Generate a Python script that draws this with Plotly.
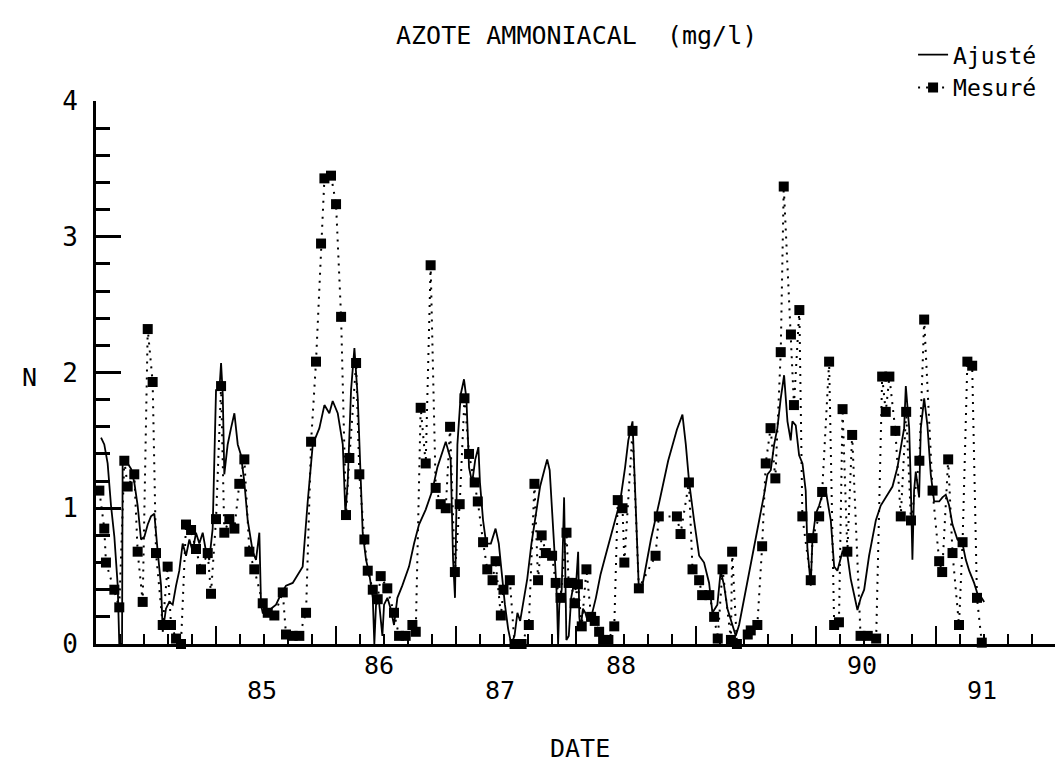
import plotly.graph_objects as go

# ---------------- data ----------------
fit_year = [84.042, 84.069, 84.097, 84.125, 84.153, 84.181, 84.194, 84.217, 84.222, 84.25, 84.292, 84.319,
            84.347, 84.375, 84.403, 84.431, 84.458, 84.486, 84.514, 84.542, 84.556, 84.583, 84.611, 84.639,
            84.667, 84.694, 84.722, 84.75, 84.778, 84.806, 84.833, 84.861, 84.889, 84.917, 84.944, 84.972,
            85.0, 85.028, 85.042, 85.056, 85.069, 85.097, 85.125, 85.153, 85.181, 85.208, 85.236, 85.264,
            85.306, 85.333, 85.361, 85.375, 85.389, 85.417, 85.458, 85.5, 85.542, 85.583, 85.639, 85.681,
            85.722, 85.764, 85.806, 85.861, 85.903, 85.944, 85.972, 86.014, 86.056, 86.078, 86.097, 86.125,
            86.153, 86.181, 86.194, 86.222, 86.25, 86.278, 86.306, 86.319, 86.333, 86.358, 86.386, 86.4,
            86.428, 86.455, 86.483, 86.511, 86.552, 86.608, 86.65, 86.691, 86.747, 86.802, 86.844, 86.886,
            86.914, 86.955, 86.975, 86.991, 87.011, 87.039, 87.066, 87.086, 87.108, 87.134, 87.160, 87.186,
            87.199, 87.225, 87.251, 87.290, 87.329, 87.356, 87.382, 87.407, 87.434, 87.46, 87.487, 87.511,
            87.534, 87.557, 87.593, 87.628, 87.664, 87.700, 87.735, 87.759, 87.78, 87.80, 87.82, 87.84,
            87.85, 87.86, 87.88, 87.90, 87.91, 87.919, 87.939, 87.959, 87.978, 87.997, 88.017, 88.027,
            88.037, 88.057, 88.077, 88.096, 88.115, 88.135, 88.165, 88.203, 88.245, 88.286, 88.326, 88.367,
            88.408, 88.435, 88.47, 88.523, 88.55, 88.623, 88.694, 88.767, 88.84, 88.886, 88.914, 88.942,
            88.983, 89.025, 89.066, 89.108, 89.136, 89.177, 89.205, 89.233, 89.261, 89.302, 89.33, 89.358,
            89.4, 89.441, 89.483, 89.525, 89.566, 89.594, 89.622, 89.65, 89.677, 89.705, 89.733, 89.761,
            89.788, 89.802, 89.83, 89.858, 89.886, 89.913, 89.927, 89.955, 89.969, 89.997, 90.025, 90.052,
            90.08, 90.122, 90.15, 90.177, 90.219, 90.261, 90.288, 90.316, 90.344, 90.372, 90.4, 90.441,
            90.497, 90.538, 90.58, 90.636, 90.677, 90.705, 90.733, 90.747, 90.775, 90.788, 90.802, 90.816,
            90.83, 90.858, 90.872, 90.9, 90.927, 90.955, 90.983, 91.025, 91.052, 91.08, 91.108, 91.136,
            91.177, 91.219, 91.247, 91.275, 91.316, 91.344, 91.372, 91.4]
fit_value = [1.52, 1.47, 1.33, 1.02, 0.79, 0.43, 0.0, 0.0, 1.36, 1.35, 1.29, 1.19,
             1.02, 0.77, 0.79, 0.88, 0.94, 0.96, 0.68, 0.43, 0.09, 0.26, 0.31, 0.29,
             0.43, 0.54, 0.74, 0.65, 0.77, 0.68, 0.82, 0.74, 0.82, 0.68, 0.62, 0.85,
             1.87, 1.87, 2.07, 1.84, 1.25, 1.47, 1.59, 1.70, 1.47, 1.39, 1.19, 0.91,
             0.68, 0.62, 0.82, 0.29, 0.23, 0.23, 0.26, 0.29, 0.37, 0.43, 0.45, 0.51,
             0.57, 1.05, 1.47, 1.59, 1.76, 1.70, 1.79, 1.70, 1.47, 0.96, 1.19, 1.87,
             2.18, 1.81, 1.47, 0.82, 0.62, 0.51, 0.34, 0.0, 0.29, 0.31, 0.06, 0.29,
             0.34, 0.26, 0.14, 0.34, 0.43, 0.57, 0.74, 0.88, 0.99, 1.13, 1.30, 1.42,
             1.49, 1.36, 0.62, 0.34, 1.47, 1.84, 1.95, 1.81, 1.30, 1.19, 1.36, 1.45,
             1.19, 0.91, 0.74, 0.74, 0.85, 0.74, 0.48, 0.29, 0.11, 0.0, 0.06, 0.23,
             0.17, 0.29, 0.48, 0.74, 0.96, 1.16, 1.28, 1.36, 1.28, 1.02, 0.68, 0.34,
             0.0, 0.29, 0.40, 1.08, 0.62, 0.03, 0.06, 0.34, 0.43, 0.40, 0.68, 0.20,
             0.11, 0.26, 0.23, 0.17, 0.20, 0.23, 0.34, 0.51, 0.65, 0.79, 0.91, 1.05,
             1.30, 1.50, 1.64, 0.40, 0.42, 0.77, 1.05, 1.35, 1.58, 1.69, 1.47, 1.19,
             0.91, 0.65, 0.60, 0.45, 0.23, 0.29, 0.54, 0.43, 0.26, 0.14, 0.06, 0.14,
             0.34, 0.54, 0.74, 0.91, 1.10, 1.25, 1.28, 1.47, 1.59, 1.81, 1.98, 1.64,
             1.50, 1.64, 1.61, 1.39, 1.33, 1.13, 0.71, 0.43, 0.77, 0.96, 1.02, 1.10,
             1.13, 0.91, 0.57, 0.54, 0.68, 0.65, 0.48, 0.37, 0.25, 0.34, 0.40, 0.65,
             0.91, 1.02, 1.08, 1.16, 1.30, 1.45, 1.59, 1.90, 1.59, 1.19, 0.62, 1.13,
             1.27, 1.08, 1.59, 1.81, 1.61, 1.25, 1.05, 1.05, 1.08, 1.10, 1.02, 0.88,
             0.77, 0.74, 0.62, 0.54, 0.45, 0.37, 0.35, 0.31]

meas_year = [84.028, 84.069, 84.083, 84.153, 84.194, 84.236, 84.264, 84.319, 84.347, 84.389, 84.431, 84.472,
             84.5, 84.556, 84.597, 84.625, 84.667, 84.708, 84.75, 84.792, 84.833, 84.875, 84.931, 84.958,
             85.0, 85.042, 85.069, 85.111, 85.153, 85.194, 85.236, 85.278, 85.319, 85.389, 85.431, 85.486,
             85.556, 85.583, 85.639, 85.694, 85.75, 85.792, 85.833, 85.875, 85.903, 85.958, 86.0, 86.042,
             86.083, 86.111, 86.167, 86.194, 86.236, 86.264, 86.306, 86.347, 86.372, 86.427, 86.483, 86.525,
             86.58, 86.636, 86.664, 86.705, 86.747, 86.788, 86.83, 86.872, 86.914, 86.95, 86.99, 87.03,
             87.07, 87.108, 87.155, 87.181, 87.225, 87.26, 87.304, 87.329, 87.373, 87.395, 87.448, 87.487,
             87.546, 87.606, 87.653, 87.683, 87.713, 87.748, 87.80, 87.83, 87.87, 87.92, 87.938, 87.959,
             87.987, 88.015, 88.047, 88.086, 88.125, 88.155, 88.192, 88.225, 88.269, 88.318, 88.347, 88.387,
             88.402, 88.47, 88.523, 88.662, 88.689, 88.84, 88.87, 88.94, 88.97, 89.025, 89.05, 89.11,
             89.15, 89.18, 89.22, 89.29, 89.3, 89.34, 89.43, 89.455, 89.51, 89.55, 89.58, 89.62,
             89.66, 89.705, 89.73, 89.79, 89.815, 89.86, 89.885, 89.955, 89.97, 90.025, 90.05, 90.108,
             90.15, 90.19, 90.22, 90.26, 90.3, 90.37, 90.43, 90.5, 90.55, 90.58, 90.61, 90.66,
             90.705, 90.75, 90.79, 90.86, 90.9, 90.97, 91.025, 91.05, 91.1, 91.136, 91.19, 91.22,
             91.26, 91.3, 91.34, 91.38]
meas_value = [1.13, 0.85, 0.60, 0.40, 0.27, 1.35, 1.16, 1.25, 0.68, 0.31, 2.32, 1.93,
              0.67, 0.14, 0.57, 0.14, 0.04, 0.0, 0.88, 0.84, 0.70, 0.55, 0.67, 0.37,
              0.92, 1.90, 0.82, 0.92, 0.85, 1.18, 1.36, 0.68, 0.55, 0.30, 0.23, 0.21,
              0.38, 0.07, 0.06, 0.06, 0.23, 1.49, 2.08, 2.95, 3.43, 3.45, 3.24, 2.41,
              0.95, 1.37, 2.07, 1.25, 0.77, 0.54, 0.40, 0.33, 0.50, 0.41, 0.23, 0.06,
              0.06, 0.14, 0.09, 1.74, 1.33, 2.79, 1.15, 1.03, 1.00, 1.60, 0.53, 1.03,
              1.81, 1.40, 1.19, 1.05, 0.75, 0.55, 0.47, 0.61, 0.21, 0.40, 0.47, 0.0,
              0.0, 0.14, 1.18, 0.47, 0.80, 0.67, 0.65, 0.45, 0.34, 0.82, 0.45, 0.45,
              0.30, 0.44, 0.13, 0.55, 0.20, 0.17, 0.09, 0.03, 0.03, 0.13, 1.06, 1.00,
              0.60, 1.57, 0.41, 0.65, 0.94, 0.94, 0.81, 1.19, 0.55, 0.47, 0.36, 0.36,
              0.20, 0.04, 0.55, 0.03, 0.68, 0.0, 0.07, 0.10, 0.14, 0.72, 1.33, 1.59,
              1.22, 2.15, 3.37, 2.28, 1.76, 2.46, 0.94, 0.47, 0.78, 0.94, 1.12, 2.08,
              0.14, 0.16, 1.73, 0.68, 1.54, 0.06, 0.06, 0.04, 1.97, 1.71, 1.97, 1.57,
              0.94, 1.71, 0.91, 1.35, 2.39, 1.13, 0.61, 0.53, 1.36, 0.67, 0.14, 0.75,
              2.08, 2.05, 0.34, 0.01]

year_labels = ["85", "86", "87", "88", "89", "90", "91"]
year_label_pos = [85.38, 86.36, 87.37, 88.37, 89.37, 90.38, 91.38]
y_ticks = [0, 1, 2, 3, 4]

FONT = "DejaVu Sans Mono"

fig = go.Figure()
fig.add_trace(go.Scatter(
    x=fit_year, y=fit_value, mode="lines", name="Ajusté",
    line=dict(color="black", width=1.8), cliponaxis=False, legendgroup="a"))
fig.add_trace(go.Scatter(
    x=meas_year, y=meas_value, mode="lines+markers", name="Mesuré",
    line=dict(color="black", width=2, dash="2px,6px"),
    marker=dict(symbol="square", size=10, color="black"),
    cliponaxis=False, legendgroup="b"))

annotations = []
for i, (lab, pos) in enumerate(zip(year_labels, year_label_pos)):
    upper = (i % 2 == 1)
    annotations.append(dict(
        x=pos, y=(-0.040 if upper else -0.085), xref="x", yref="paper",
        text=lab, showarrow=False, font=dict(family=FONT, size=25, color="black"),
        xanchor="center", yanchor="middle"))
annotations.append(dict(x=0.505, y=-0.193, xref="paper", yref="paper", text="DATE",
                        showarrow=False, font=dict(family=FONT, size=25, color="black"),
                        xanchor="center", yanchor="middle"))
annotations.append(dict(x=-0.069, y=0.49, xref="paper", yref="paper", text="N",
                        showarrow=False, font=dict(family=FONT, size=25, color="black"),
                        xanchor="center", yanchor="middle"))
annotations.append(dict(x=0.501, y=1.12, xref="paper", yref="paper",
                        text="AZOTE AMMONIACAL  (mg/l)",
                        showarrow=False, font=dict(family=FONT, size=25, color="black"),
                        xanchor="center", yanchor="middle"))

fig.update_layout(
    width=1055, height=776,
    margin=dict(l=96, r=0, t=101, b=132, pad=0),
    paper_bgcolor="white", plot_bgcolor="white",
    font=dict(family=FONT, color="black"),
    showlegend=True,
    legend=dict(x=0.852, y=1.125, xanchor="left", yanchor="top",
                font=dict(family=FONT, size=23, color="black"),
                bgcolor="rgba(0,0,0,0)", itemwidth=30, tracegroupgap=0,
                traceorder="normal"),
    annotations=annotations,
    xaxis=dict(range=[84.0, 91.99], showgrid=False, zeroline=False,
               showline=True, linecolor="black", linewidth=3,
               ticks="inside", tickmode="linear", tick0=85, dtick=1,
               ticklen=18, tickwidth=2, tickcolor="black",
               showticklabels=False,
               minor=dict(ticks="inside", dtick=0.2, tick0=84, ticklen=10,
                          tickwidth=2, tickcolor="black", showgrid=False)),
    yaxis=dict(range=[0, 4], showgrid=False, zeroline=False,
               showline=True, linecolor="black", linewidth=3,
               ticks="inside", tickmode="array", tickvals=y_ticks,
               ticktext=[str(v) for v in y_ticks],
               ticklen=25, tickwidth=3, tickcolor="black",
               tickfont=dict(family=FONT, size=26, color="black"),
               ticklabelstandoff=10,
               minor=dict(ticks="inside", dtick=0.2, ticklen=14,
                          tickwidth=3, tickcolor="black", showgrid=False)),
)

fig.write_html("out.html")
